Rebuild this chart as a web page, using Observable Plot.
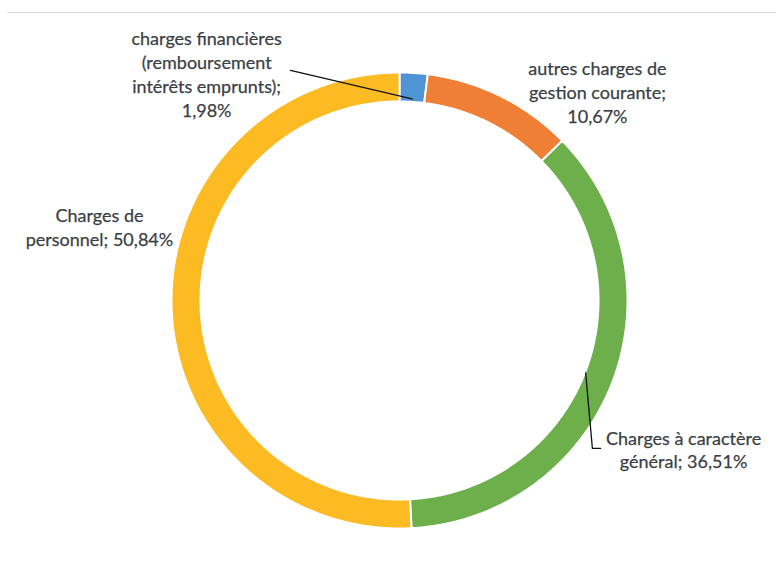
<!DOCTYPE html>
<html><head><meta charset="utf-8">
<script src="https://cdn.jsdelivr.net/npm/d3@7"></script>
<script src="https://cdn.jsdelivr.net/npm/@observablehq/plot@0.6"></script>
<style>
body{margin:0;background:#fff;}
#wrap{position:relative;width:776px;height:578px;overflow:hidden;}
#topline{position:absolute;left:7px;top:12px;width:769px;height:1px;background:#d9d9d9;z-index:2;}
</style></head><body><div id="wrap"><div id="topline"></div></div>
<script>
// ---- data ----
const categories = [
  "charges financières (remboursement intérêts emprunts)",
  "autres charges de gestion courante",
  "Charges à caractère général",
  "Charges de personnel"
];
const values = [1.98, 10.67, 36.51, 50.84];
const labelTexts = [
  "charges financières\n(remboursement\nintérêts emprunts);\n1,98%",
  "autres charges de\ngestion courante;\n10,67%",
  "Charges à caractère\ngénéral; 36,51%",
  "Charges de\npersonnel; 50,84%"
];
const colors = ["#4f94d4", "#ee7f34", "#6caf4b", "#fcbb22"];

// ---- layout (data units of the ring: outer radius = 1) ----
const innerR = 0.873;
const labelPos = [[-0.846, 0.996], [0.868, 0.917], [1.246, -0.651], [-1.316, 0.325]];
const leaderSpec = [
  {slice: 0, r: 0.886, path: [[-0.478, 1.009]]},
  {slice: 2, r: 0.876, path: [[0.846, -0.649], [0.882, -0.649]]}
];

// ---- geometry derived from values ----
const total = d3.sum(values);
let acc = 0;
const slices = values.map((v, i) => {
  const a0 = acc / total * 2 * Math.PI; acc += v;
  const a1 = acc / total * 2 * Math.PI;
  return {i, cat: categories[i], a0, a1, mid: (a0 + a1) / 2};
});
const ring = [];
for (const s of slices) {
  const n = Math.max(2, Math.ceil((s.a1 - s.a0) / (Math.PI / 360)));
  for (let k = 0; k <= n; k++) { const a = s.a0 + (s.a1 - s.a0) * k / n; ring.push({cat: s.cat, x: Math.sin(a), y: Math.cos(a)}); }
  for (let k = n; k >= 0; k--) { const a = s.a0 + (s.a1 - s.a0) * k / n; ring.push({cat: s.cat, x: innerR * Math.sin(a), y: innerR * Math.cos(a)}); }
}
const leaders = [];
leaderSpec.forEach((l, id) => {
  const s = slices[l.slice];
  leaders.push({id, x: l.r * Math.sin(s.mid), y: l.r * Math.cos(s.mid)});
  l.path.forEach(([x, y]) => leaders.push({id, x, y}));
});
const labels = labelTexts.map((t, i) => ({text: t, x: labelPos[i][0], y: labelPos[i][1]}));

const chart = Plot.plot({
  width: 776, height: 578, margin: 0,
  x: {domain: [-1, 1], range: [171, 627], axis: null},
  y: {domain: [-1, 1], range: [528, 72], axis: null},
  color: {domain: categories, range: colors},
  style: {fontFamily: "Lato, 'Open Sans', sans-serif", background: "#fff"},
  marks: [
    Plot.line(ring, {x: "x", y: "y", z: "cat", fill: "cat", stroke: "#fff", strokeWidth: 2, curve: "linear-closed"}),
    Plot.line(leaders, {x: "x", y: "y", z: "id", stroke: "#111", strokeWidth: 1.3}),
    Plot.text(labels, {x: "x", y: "y", text: "text", fill: "#3b3f46", fontSize: 18, lineHeight: 1.32, textAnchor: "middle", stroke: "#3b3f46", strokeWidth: 0.25})
  ]
});
document.getElementById("wrap").prepend(chart);
</script>
</body></html>
